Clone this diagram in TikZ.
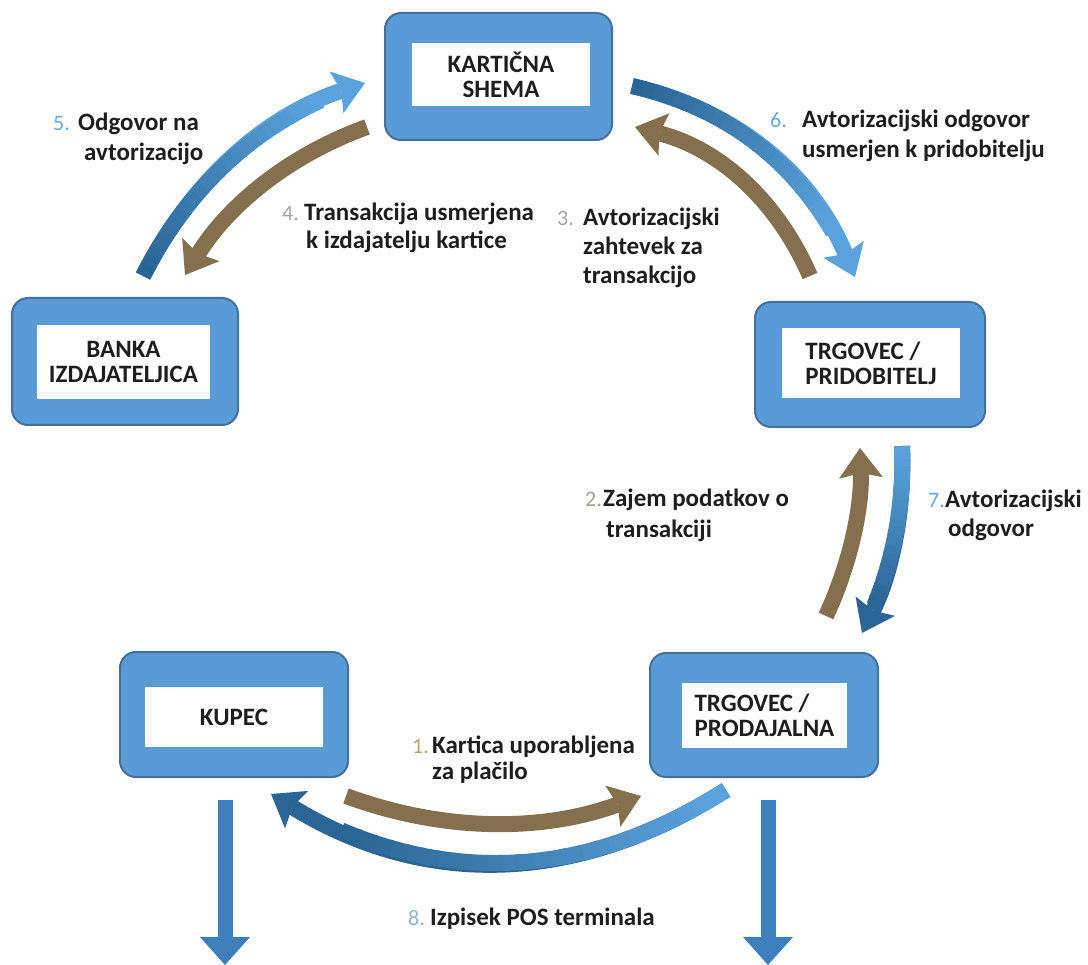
\documentclass[tikz,border=0pt]{standalone}
\usepackage{fontspec}
\setmainfont{Carlito}
\usetikzlibrary{arrows.meta,calc}
\definecolor{boxblue}{HTML}{5B9BD5}
\definecolor{boxedge}{HTML}{41719C}
\definecolor{brownarr}{HTML}{84704F}
\definecolor{darkarr}{HTML}{2B6594}
\definecolor{lightarr}{HTML}{5BA3DC}
\definecolor{vblue}{HTML}{3D7EBB}
\definecolor{txt}{HTML}{1E1E1E}
\definecolor{numblue}{HTML}{6AA8D8}
\definecolor{numpale}{HTML}{8DB3D3}
\definecolor{numtan}{HTML}{B8A46C}
\definecolor{numgtan}{HTML}{A8A088}
\definecolor{numgray}{HTML}{A5A5A5}
\newcommand{\defarrow}[4]{%
  \coordinate (#1s) at #2;
  \coordinate (#1p) at #3;
  \coordinate (#1e) at #4;
  \coordinate (#1c1) at ($(#1s)!2/3!(#1p)$);
  \coordinate (#1c2) at ($(#1e)!2/3!(#1p)$);
}
\newcommand{\gradband}[3]{% #1 arrow name, #2 start colour, #3 end colour
  \foreach \k in {0,...,23}{%
    \pgfmathsetmacro{\ta}{\k*0.035}%
    \pgfmathsetmacro{\tb}{(\k+1)*0.035+0.006}%
    \pgfmathtruncatemacro{\pc}{100*\k/23}%
    \begin{pgfscope}
      \pgfsetlinewidth{16pt}%
      \pgfsetbuttcap
      \pgfsetstrokecolor{#3!\pc!#2}%
      \pgfpathcurvebetweentime{\ta}{\tb}{\pgfpointanchor{#1s}{center}}{\pgfpointanchor{#1c1}{center}}{\pgfpointanchor{#1c2}{center}}{\pgfpointanchor{#1e}{center}}%
      \pgfusepath{stroke}%
    \end{pgfscope}
  }%
}
\begin{document}
\begin{tikzpicture}[x=1pt,y=-1pt,
  outerbox/.style={draw=boxedge, line width=2pt, fill=boxblue, rounded corners=16pt},
  innerbox/.style={fill=white, font=\bfseries\fontsize{25}{25}\selectfont, text=txt, inner sep=0pt},
  lbl/.style={font=\bfseries\fontsize{25}{29}\selectfont, text=txt, anchor=base west, inner sep=0pt},
  num/.style={font=\fontsize{22}{29}\selectfont, anchor=base west, inner sep=0pt},
  band/.style={line width=16pt},
  head/.style={-{Stealth[length=30pt,width=44pt,inset=5pt,line width=0pt]}},
  vhead/.style={line width=15pt, vblue, -{Triangle[length=28pt,width=50pt,line width=0pt]}}
]
\useasboundingbox (0,0) rectangle (1088,965);
\fill[white] (0,0) rectangle (1088,965);

% boxes
\node[outerbox, minimum width=227pt, minimum height=127pt] (ks) at (498.5,76.5) {};
\node[innerbox, minimum width=178pt, minimum height=63pt, align=center] (kst) at (501,74.5) {KARTIČNA\\SHEMA};

\node[outerbox, minimum width=226pt, minimum height=127pt] (bi) at (125,361.5) {};
\node[innerbox, minimum width=173pt, minimum height=74pt, align=center] (bit) at (123.5,362) {BANKA\\IZDAJATELJICA};

\node[outerbox, minimum width=230pt, minimum height=125pt] (tp) at (870,364.5) {};
\node[innerbox, minimum width=178pt, minimum height=70pt, align=left] (tpt) at (871,363) {TRGOVEC /\\PRIDOBITELJ};

\node[outerbox, minimum width=228pt, minimum height=125pt] (ku) at (234,714.5) {};
\node[innerbox, minimum width=178pt, minimum height=60pt, align=center] (kut) at (234,717) {KUPEC};

\node[outerbox, minimum width=228pt, minimum height=124pt] (tr) at (764,715) {};
\node[innerbox, minimum width=165pt, minimum height=65pt, align=left] (trt) at (764.5,715.5) {TRGOVEC /\\PRODAJALNA};

% arrow geometry: tail, quadratic control, tip
\defarrow{a5}{(143,276)}{(216,132)}{(365,83)}
\defarrow{a4}{(367,127)}{(251,169)}{(185,275)}
\defarrow{a6}{(632,86)}{(791,123)}{(855,277)}
\defarrow{a3}{(810,276)}{(759,159)}{(635,127)}
\defarrow{a2}{(826,616)}{(863,536)}{(860,448)}
\defarrow{a7}{(902,446)}{(906,544)}{(862,633)}
\defarrow{a1}{(346,796)}{(493,850)}{(641,796)}
\defarrow{a8}{(726,790)}{(499,934)}{(271,794)}

% brown arrows
\foreach \a in {a4,a3,a2,a1}{
  \draw[band, brownarr, head] (\a s) .. controls (\a c1) and (\a c2) .. (\a e);
}
% blue gradient arrows
\draw[band, lightarr, head] (a5s) .. controls (a5c1) and (a5c2) .. (a5e);
\gradband{a5}{darkarr}{lightarr}
\draw[band, lightarr, head] (a6s) .. controls (a6c1) and (a6c2) .. (a6e);
\gradband{a6}{darkarr}{lightarr}
\draw[band, darkarr, head] (a7s) .. controls (a7c1) and (a7c2) .. (a7e);
\gradband{a7}{lightarr}{darkarr}
\draw[band, darkarr, head] (a8s) .. controls (a8c1) and (a8c2) .. (a8e);
\gradband{a8}{lightarr}{darkarr}

% vertical arrows
\coordinate (d1s) at (225,800); \coordinate (d1e) at (225,965);
\coordinate (d2s) at (768,800); \coordinate (d2e) at (768,965);
\draw[vhead] (d1s) -- (d1e);
\draw[vhead] (d2s) -- (d2e);

% labels
\node[num, numblue] (n5) at (53,131) {5.};
\node[lbl] (l5a) at (78,131) {Odgovor na};
\node[lbl] (l5b) at (84,161) {avtorizacijo};

\node[num, numgray] (n4) at (282,221) {4.};
\node[lbl] (l4a) at (304,221) {Transakcija usmerjena};
\node[lbl] (l4b) at (306,249) {k izdajatelju kartice};

\node[num, numgray] (n3) at (557,226) {3.};
\node[lbl] (l3a) at (583,226) {Avtorizacijski};
\node[lbl] (l3b) at (583,255) {zahtevek za};
\node[lbl] (l3c) at (583,284) {transakcijo};

\node[num, numblue] (n6) at (770,128) {6.};
\node[lbl] (l6a) at (802,128) {Avtorizacijski odgovor};
\node[lbl] (l6b) at (802,158) {usmerjen k pridobitelju};

\node[num, numgtan] (n2) at (585,507) {2.};
\node[lbl] (l2a) at (603,507) {Zajem podatkov o};
\node[lbl] (l2b) at (606,538) {transakciji};

\node[num, numblue] (n7) at (928,508) {7.};
\node[lbl] (l7a) at (945,508) {Avtorizacijski};
\node[lbl] (l7b) at (948,537) {odgovor};

\node[num, numtan] (n1) at (412,753) {1.};
\node[lbl] (l1a) at (432,753) {Kartica uporabljena};
\node[lbl] (l1b) at (432,779) {za plačilo};

\node[num, numpale] (n8) at (408,925) {8.};
\node[lbl] (l8a) at (430,925) {Izpisek POS terminala};
\end{tikzpicture}
\end{document}
